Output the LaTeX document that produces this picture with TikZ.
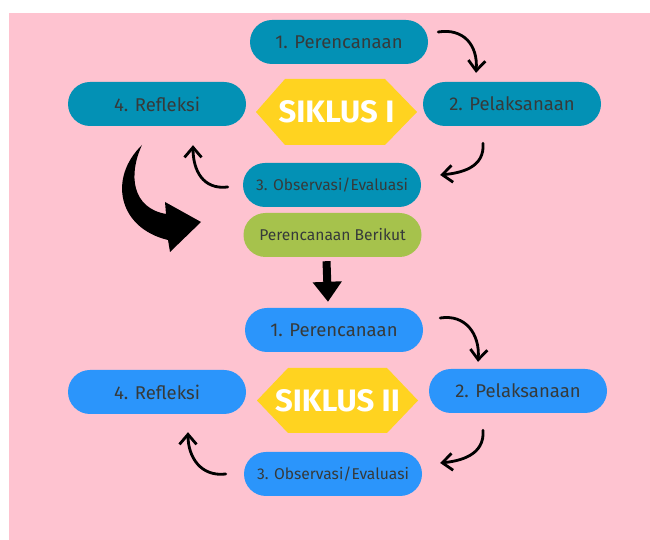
\documentclass[tikz,border=0pt]{standalone}
\usepackage{fontspec}
\setmainfont{Fira Sans}
\usetikzlibrary{arrows.meta}
\definecolor{bgpink}{HTML}{FEC3D0}
\definecolor{tealbox}{HTML}{0391B5}
\definecolor{bluebox}{HTML}{2B95FB}
\definecolor{greenbox}{HTML}{A6C24C}
\definecolor{hexyellow}{HTML}{FFD320}
\definecolor{labelgray}{HTML}{363A3A}
\tikzset{
  stage/.style={rounded corners=22pt,minimum width=178pt,minimum height=44pt,inner sep=0pt,text=labelgray,font=\fontsize{18.5}{20}\selectfont},
  obs/.style={stage,font=\fontsize{15.6}{18}\selectfont},
  hexa/.style={inner sep=0pt,text=white,font=\bfseries\fontsize{31}{36}\selectfont},
  curv/.style={line width=2.8pt,line cap=round,-{Straight Barb[length=10pt,width=17pt]}}
}
\begin{document}
\begin{tikzpicture}[x=1pt,y=1pt]
	\useasboundingbox (0,0) rectangle (650,540);
	\fill[bgpink] (9,0) rectangle (650,527);
	% siklus I
	\node[stage,fill=tealbox] (a1) at (339,498) {1. Perencanaan};
	\node[stage,fill=tealbox] (a2) at (512,436) {2. Pelaksanaan};
	\node[stage,fill=tealbox] (a4) at (157,436) {4. Refleksi};
	\fill[hexyellow] (256,428) -- (285,461) -- (385,461) -- (417,428) -- (385,395) -- (285,395) -- cycle;
	\node[hexa] (s1) at (336.5,428) {SIKLUS I};
	\node[obs,fill=tealbox] (a3) at (332,355) {3. Observasi/Evaluasi};
	\node[obs,fill=greenbox] (nb) at (332.5,305) {Perencanaan Berikut};
	\draw[curv] ([xshift=10pt,yshift=10pt]a1.east) .. controls +(25,4) and +(2,28) .. ([xshift=-36pt,yshift=9pt]a2.north);
	\draw[curv] ([xshift=-29pt,yshift=-17pt]a2.south) .. controls +(2,-25) and +(20,2) .. ([xshift=19pt,yshift=10pt]a3.east);
	\draw[curv] ([xshift=-15pt,yshift=-2pt]a3.west) .. controls +(-25,-3) and +(0,-25) .. ([xshift=36pt,yshift=-19pt]a4.south);
	% panah besar
	\fill (142,395) .. controls (108,362) and (118,312) .. (168,300) -- (170,288) -- (201,318) -- (165,338) -- (166,326) .. controls (132,332) and (128,365) .. (142,395) -- cycle;
	% siklus II
	\node[stage,fill=bluebox] (b1) at (334,210) {1. Perencanaan};
	\node[stage,fill=bluebox] (b2) at (518,149) {2. Pelaksanaan};
	\node[stage,fill=bluebox] (b4) at (157,148) {4. Refleksi};
	\fill[hexyellow] (257,139.5) -- (288,172) -- (387,172) -- (418,139.5) -- (387,107) -- (288,107) -- cycle;
	\node[hexa] (s2) at (337.5,139.5) {SIKLUS II};
	\node[obs,fill=bluebox] (b3) at (333,66) {3. Observasi/Evaluasi};
	\draw[line width=8pt,-{Triangle[length=20pt,width=28pt]}] ([xshift=-6pt,yshift=-4pt]nb.south) -- ([xshift=-6pt,yshift=6pt]b1.north);
	\draw[curv] ([xshift=17pt,yshift=12pt]b1.east) .. controls +(25,4) and +(2,28) .. ([xshift=-40pt,yshift=7pt]b2.north);
	\draw[curv] ([xshift=-35pt,yshift=-17pt]b2.south) .. controls +(2,-25) and +(20,2) .. ([xshift=18pt,yshift=11pt]b3.east);
	\draw[curv] ([xshift=-18pt]b3.west) .. controls +(-25,-3) and +(0,-25) .. ([xshift=31pt,yshift=-18pt]b4.south);
\end{tikzpicture}
\end{document}
